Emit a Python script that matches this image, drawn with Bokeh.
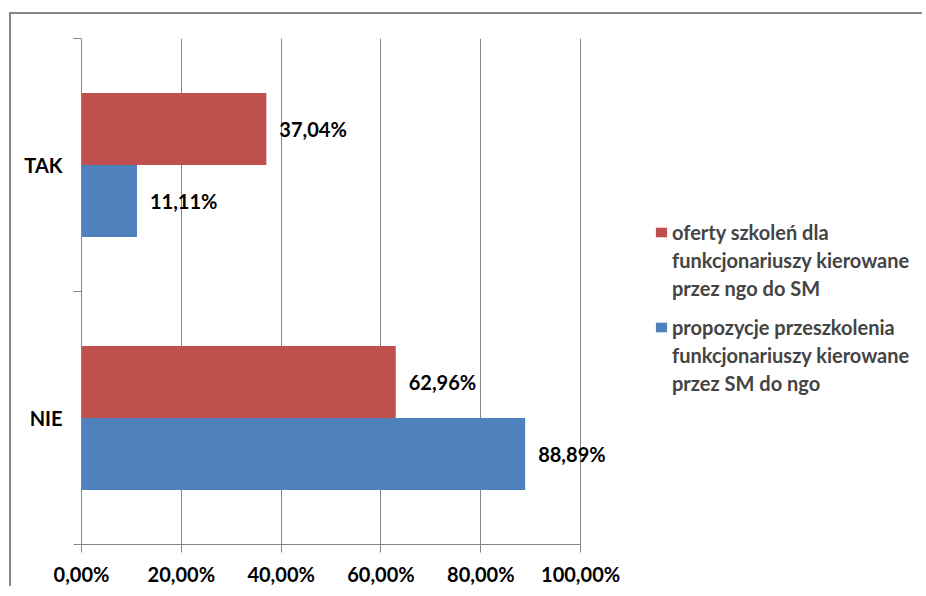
from bokeh.plotting import figure
from bokeh.models import Range1d, FixedTicker, ColumnDataSource, Legend, LegendItem
from bokeh.core.properties import value
from bokeh.embed import file_html
from bokeh.resources import INLINE

categories = ["NIE", "TAK"]
series_lines = [
    ["oferty szkoleń dla", "funkcjonariuszy kierowane", "przez ngo do SM"],
    ["propozycje przeszkolenia", "funkcjonariuszy kierowane", "przez SM do ngo"],
]
oferty = [62.96, 37.04]
propozycje = [88.89, 11.11]
oferty_text = ["62,96%", "37,04%"]
propozycje_text = ["88,89%", "11,11%"]
x_ticks = [0, 20, 40, 60, 80, 100]
x_tick_labels = ["0,00%", "20,00%", "40,00%", "60,00%", "80,00%", "100,00%"]

RED = "#C0504D"
BLUE = "#4F81BD"
GREY = "#868686"
FONT = "Lato"
FS = "20px"
X_VIEW_END = 168.9   # frame extends right of the 100% axis end (room for labels and legend)

bar_h = 0.285
centers = [i + 0.5 for i in range(len(categories))]

src_red = ColumnDataSource(dict(y=[c + bar_h / 2 for c in centers], x=oferty, t=oferty_text))
src_blue = ColumnDataSource(dict(y=[c - bar_h / 2 for c in centers], x=propozycje, t=propozycje_text))

p = figure(width=913, height=574, output_backend="svg", toolbar_location=None,
           x_range=Range1d(0, X_VIEW_END), y_range=Range1d(0, len(categories)),
           min_border_left=70, min_border_right=0, min_border_top=24, min_border_bottom=41,
           styles={"border-left": "2px solid #878787", "border-top": "2px solid #878787",
                   "margin-left": "9px", "margin-top": "12px"})
p.outline_line_color = None
p.background_fill_color = "white"

r_red = p.hbar(y="y", right="x", left=0, height=bar_h, source=src_red,
               fill_color=RED, line_color=None)
r_blue = p.hbar(y="y", right="x", left=0, height=bar_h, source=src_blue,
                fill_color=BLUE, line_color=None)
# invisible renderer used for continuation lines of the wrapped legend labels
r_none = p.hbar(y=[], right=[], left=0, height=bar_h, fill_alpha=0, line_alpha=0)

for src in (src_red, src_blue):
    p.text(x="x", y="y", text="t", source=src, x_offset=13, text_baseline="middle",
           text_align="left", text_font=value(FONT), text_font_size=FS,
           text_font_style="bold", text_color="black")

# x axis
p.xaxis.bounds = (0, 100)
p.xaxis.ticker = FixedTicker(ticks=x_ticks, minor_ticks=[])
p.xaxis.major_label_overrides = {t: l for t, l in zip(x_ticks, x_tick_labels)}
p.xaxis.axis_line_color = GREY
p.xaxis.major_tick_line_color = GREY
p.xaxis.major_tick_out = 8
p.xaxis.major_tick_in = 0
p.xaxis.major_label_standoff = 9
p.xaxis.major_label_text_font = FONT
p.xaxis.major_label_text_font_size = FS
p.xaxis.major_label_text_font_style = "bold"
p.xaxis.major_label_text_color = "black"

# y axis
p.yaxis.ticker = FixedTicker(ticks=centers, minor_ticks=list(range(len(categories) + 1)))
p.yaxis.major_label_overrides = {c: n for c, n in zip(centers, categories)}
p.yaxis.axis_line_color = GREY
p.yaxis.major_tick_line_color = None
p.yaxis.major_tick_out = 0
p.yaxis.major_tick_in = 0
p.yaxis.minor_tick_line_color = GREY
p.yaxis.minor_tick_out = 8
p.yaxis.minor_tick_in = 0
p.yaxis.major_label_standoff = 11
p.yaxis.major_label_text_font = FONT
p.yaxis.major_label_text_font_size = FS
p.yaxis.major_label_text_font_style = "bold"
p.yaxis.major_label_text_color = "black"

p.xgrid.ticker = FixedTicker(ticks=x_ticks)
p.xgrid.bounds = (0, 100)
p.xgrid.grid_line_color = GREY
p.ygrid.grid_line_color = None


def make_legend(lines, renderer, loc):
    items = [LegendItem(label=lines[0], renderers=[renderer])]
    items += [LegendItem(label=ln, renderers=[r_none]) for ln in lines[1:]]
    lg = Legend(items=items, location=loc)
    lg.padding = 0
    lg.margin = 0
    lg.spacing = 4
    lg.border_line_color = None
    lg.background_fill_alpha = 0
    lg.glyph_width = 14
    lg.glyph_height = 12
    lg.label_standoff = 4
    lg.label_text_font = FONT
    lg.label_text_font_size = FS
    lg.label_text_font_style = "bold"
    lg.label_text_baseline = "middle"
    return lg


p.add_layout(make_legend(series_lines[0], r_red, (573, 244)), "center")
p.add_layout(make_legend(series_lines[1], r_blue, (573, 149)), "center")

open("out.html", "w").write(file_html(p, INLINE))
